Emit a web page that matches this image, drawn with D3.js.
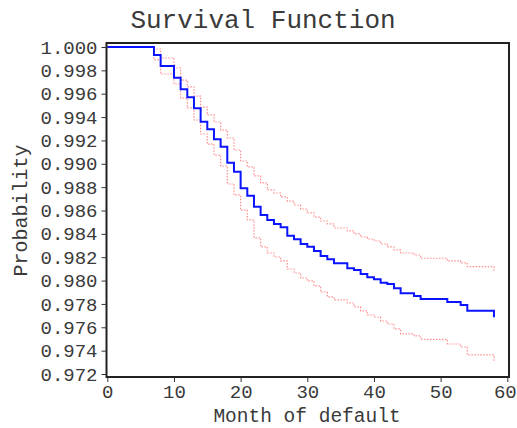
<!DOCTYPE html>
<html>
<head>
<meta charset="utf-8">
<script src="https://cdn.jsdelivr.net/npm/d3@7"></script>
<style>
  html, body { margin: 0; padding: 0; background: #fff; }
  svg text { font-family: "Liberation Mono", "DejaVu Sans Mono", monospace; fill: #3a3a3a; }
</style>
</head>
<body>
<svg id="chart" width="517" height="428"></svg>
<script>
// Kaplan-Meier estimate of time to default, with pointwise confidence limits
const months = [0, 7, 8, 10, 11, 12, 13, 14, 15, 16, 17, 18, 19, 20, 21, 22, 23, 24, 25, 26,
  27, 28, 29, 30, 31, 32, 33, 34, 36, 37, 38, 39, 40, 41, 42, 43, 44, 46, 47, 51, 53, 54, 58];

const survival = [1.00000, 0.99932, 0.99837, 0.99737, 0.99638, 0.99569, 0.99475, 0.99360, 0.99295,
  0.99210, 0.99146, 0.99009, 0.98932, 0.98790, 0.98727, 0.98633, 0.98562, 0.98519, 0.98485,
  0.98456, 0.98384, 0.98354, 0.98313, 0.98290, 0.98253, 0.98211, 0.98182, 0.98148, 0.98105,
  0.98091, 0.98056, 0.98028, 0.98011, 0.97982, 0.97971, 0.97934, 0.97891, 0.97868, 0.97842,
  0.97817, 0.97791, 0.97742, 0.97686];

const upperLimit = [1.00000, 0.99983, 0.99906, 0.99820, 0.99717, 0.99658, 0.99580, 0.99486, 0.99418,
  0.99358, 0.99289, 0.99221, 0.99118, 0.99024, 0.98973, 0.98896, 0.98836, 0.98776, 0.98750,
  0.98716, 0.98681, 0.98647, 0.98613, 0.98579, 0.98544, 0.98510, 0.98485, 0.98450, 0.98425,
  0.98399, 0.98373, 0.98356, 0.98339, 0.98313, 0.98288, 0.98262, 0.98236, 0.98219, 0.98191,
  0.98168, 0.98151, 0.98119, 0.98076];

const lowerLimit = [1.00000, 0.99889, 0.99769, 0.99683, 0.99563, 0.99478, 0.99375, 0.99255, 0.99169,
  0.99075, 0.98981, 0.98827, 0.98733, 0.98604, 0.98519, 0.98365, 0.98288, 0.98236, 0.98202,
  0.98168, 0.98099, 0.98065, 0.98022, 0.97997, 0.97954, 0.97902, 0.97860, 0.97834, 0.97808,
  0.97774, 0.97740, 0.97705, 0.97688, 0.97654, 0.97628, 0.97586, 0.97543, 0.97526, 0.97497,
  0.97457, 0.97431, 0.97363, 0.97305];

const xTicks = [0, 10, 20, 30, 40, 50, 60];
const yTicks = [1.000, 0.998, 0.996, 0.994, 0.992, 0.990, 0.988, 0.986, 0.984,
  0.982, 0.980, 0.978, 0.976, 0.974, 0.972];

const svg = d3.select("#chart");

const x = d3.scaleLinear().domain([0, 60]).range([107.3, 507.3]);
const y = d3.scaleLinear().domain([0.972, 1.000]).range([374, 47]);

// plot frame
const frame = { left: 106.5, right: 509, top: 43, bottom: 377 };

const stepLine = vals => d3.line()
  .curve(d3.curveStepAfter)
  .x((d, i) => x(months[i]))
  .y(d => y(d))(vals);

// confidence limits (dotted)
[upperLimit, lowerLimit].forEach(vals => {
  svg.append("path")
    .attr("d", stepLine(vals))
    .attr("fill", "none")
    .attr("stroke", "#ff7b7b")
    .attr("stroke-width", 1.2)
    .attr("stroke-dasharray", "1.5,1.5")
    .attr("opacity", 0.85);
});

// survival estimate
svg.append("path")
  .attr("d", stepLine(survival))
  .attr("fill", "none")
  .attr("stroke", "#0a14ff")
  .attr("stroke-width", 2);

svg.append("rect")
  .attr("x", frame.left).attr("y", frame.top)
  .attr("width", frame.right - frame.left)
  .attr("height", frame.bottom - frame.top)
  .attr("fill", "none")
  .attr("stroke", "#222")
  .attr("stroke-width", 2);

// axes
const yAxis = svg.append("g")
  .attr("transform", `translate(${frame.left},0)`)
  .call(d3.axisLeft(y).tickValues(yTicks).tickFormat(d3.format(".3f")).tickSize(5).tickPadding(4));
const xAxis = svg.append("g")
  .attr("transform", `translate(0,${frame.bottom})`)
  .call(d3.axisBottom(x).tickValues(xTicks).tickFormat(d3.format("d")).tickSize(5).tickPadding(3));

[yAxis, xAxis].forEach(g => {
  g.select(".domain").remove();
  g.selectAll(".tick line").attr("stroke", "#333");
  g.selectAll(".tick text")
    .attr("font-family", "Liberation Mono, DejaVu Sans Mono, monospace")
    .attr("font-size", 19)
    .attr("fill", "#3a3a3a");
});
// keep the last month label inside the page
xAxis.selectAll(".tick text").filter(d => d === 60).attr("dx", -2.5);

svg.append("text")
  .attr("x", 263).attr("y", 28)
  .attr("text-anchor", "middle")
  .attr("font-size", 26)
  .text("Survival Function");

svg.append("text")
  .attr("x", 307).attr("y", 422)
  .attr("text-anchor", "middle")
  .attr("font-size", 19.5)
  .text("Month of default");

svg.append("text")
  .attr("transform", "translate(27,210.5) rotate(-90)")
  .attr("text-anchor", "middle")
  .attr("font-size", 20)
  .text("Probability");
</script>
</body>
</html>
